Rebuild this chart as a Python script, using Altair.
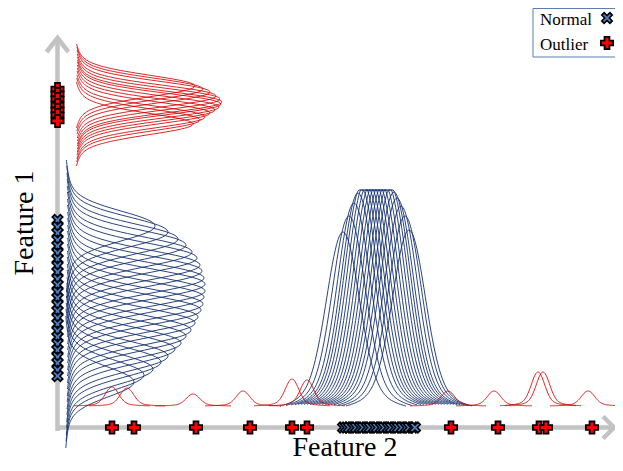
import altair as alt
import numpy as np
import pandas as pd

# ---------------- data (feature units, origin at the axes' crossing) ----------------
# sample markers
normal_f2 = [286, 289, 292, 296, 299, 303, 306, 310, 313, 317, 320, 324, 327, 331, 334, 338, 341, 345, 349, 352, 356, 358]
normal_f1 = [207, 200, 194, 187, 181, 174, 168, 161, 155, 148, 142, 135, 129, 122, 116, 109, 103, 96, 90, 83, 77, 70, 64, 57, 51]
outlier_f2 = [55, 77, 139, 193, 235, 250, 394, 441, 482, 489, 535]
outlier_f1 = [338, 333, 328, 322, 317, 312, 306]

# density curves of Feature 1 (drawn sideways from the vertical axis)
blue_f1_centers = [201, 195, 188, 182, 175, 169, 162, 156, 149, 143, 136, 130, 123, 117, 110, 104, 97, 91, 84, 78, 71, 65, 58, 52, 45]
blue_f1_heights = [91, 104, 114, 122, 128, 133, 136, 138, 140, 141, 141, 140, 139, 137, 134, 131, 127, 122, 117, 111, 104, 97, 89, 80, 70]
red_f1_centers = [341, 338, 335, 331, 328, 325, 323, 320, 317, 314, 310, 307, 303]
red_f1_heights = [123, 131, 138, 144, 148, 150, 149, 147, 143, 138, 133, 128, 121]

# density curves of Feature 2 (drawn upward from the horizontal axis)
blue_f2_centers = [286, 292, 297, 301, 304, 307, 310, 313, 316, 319, 322, 325, 328, 331, 334, 337, 340, 344, 348, 352]
blue_f2_heights = [181, 197, 210, 220, 226, 228, 228, 228, 228, 228, 228, 228, 228, 228, 226, 221, 215, 207, 197, 183]
red_f2_centers = [55, 70, 136, 186, 235, 250, 391, 437, 481, 486, 531]
red_f2_heights = [19, 18, 12, 15, 27, 26, 15, 15, 34, 34, 15]

legend_labels = ["Normal", "Outlier"]
x_title = "Feature 2"
y_title = "Feature 1"


def profile(d, s):
    return 0.88 * np.exp(-d ** 2 / (2 * s ** 2)) + 0.12 * np.exp(-d ** 2 / (2 * (2.6 * s) ** 2))


rows = []
cid = 0
def add_curves(centers, heights, base, sigma, reach, family, sideways, cap=None):
    global cid
    t = np.linspace(-reach, reach, 90)
    for c, h in zip(centers, heights):
        v = h * profile(t, sigma)
        if cap is not None:
            v = np.minimum(v, cap)
        for i, (tt, vv) in enumerate(zip(t, v)):
            if sideways:
                rows.append(dict(x=base + vv, y=c + tt, id=cid, i=i, fam=family))
            else:
                rows.append(dict(x=c + tt, y=base + vv, id=cid, i=i, fam=family))
        cid += 1

add_curves(blue_f1_centers, blue_f1_heights, 7, 14.5, 66, "blue", True)
add_curves(red_f1_centers, red_f1_heights, 15, 10.5, 42, "red", True)
add_curves(blue_f2_centers, blue_f2_heights, 14, 16, 63, "blue", False, cap=223)
add_curves(red_f2_centers, red_f2_heights, 21, 6.5, 38, "red", False)
curves = pd.DataFrame(rows)

xs = alt.Scale(domain=[-49, 558], nice=False, zero=False)
ys = alt.Scale(domain=[-36, 419], nice=False, zero=False)
X = lambda f: alt.X(f, type="quantitative", scale=xs, axis=None)
Y = lambda f: alt.Y(f, type="quantitative", scale=ys, axis=None)

GRAY = "#c3c3c3"
# axis lines with arrow heads
axes_df = pd.DataFrame([
    dict(id=0, i=0, x=0.5, y=-4), dict(id=0, i=1, x=0.5, y=389),
    dict(id=1, i=0, x=0.5, y=-0.5), dict(id=1, i=1, x=557, y=-0.5),
    dict(id=2, i=0, x=-10.5, y=375), dict(id=2, i=1, x=0.5, y=389), dict(id=2, i=2, x=11.5, y=375),
    dict(id=3, i=0, x=546, y=10.5), dict(id=3, i=1, x=557, y=-0.5), dict(id=3, i=2, x=546, y=-11.5),
])
axes_layer = alt.Chart(axes_df).mark_line(color=GRAY, strokeWidth=4.5, strokeCap="butt", strokeJoin="miter").encode(
    x=X("x"), y=Y("y"), detail="id:N", order="i:Q")

blue_curves = alt.Chart(curves[curves.fam == "blue"]).mark_line(
    color="#14306e", strokeWidth=1, opacity=0.9).encode(
    x=X("x"), y=Y("y"), detail="id:N", order="i:Q")
red_curves = alt.Chart(curves[curves.fam == "red"]).mark_line(
    color="#d40000", strokeWidth=1, opacity=0.85).encode(
    x=X("x"), y=Y("y"), detail="id:N", order="i:Q")

XSHAPE = "M-1,-0.55L-0.55,-1L0,-0.45L0.55,-1L1,-0.55L0.45,0L1,0.55L0.55,1L0,0.45L-0.55,1L-1,0.55L-0.45,0Z"
BLUE_FILL = "#4d7fc2"
RED_FILL = "#ff0000"

normals = pd.DataFrame(
    [dict(x=v, y=-0.5) for v in normal_f2] + [dict(x=0.5, y=v) for v in normal_f1])
outliers = pd.DataFrame(
    [dict(x=v, y=-0.5) for v in outlier_f2] + [dict(x=0.5, y=v) for v in outlier_f1])

normal_pts = alt.Chart(normals).mark_point(
    shape=XSHAPE, filled=True, fill=BLUE_FILL, stroke="black", strokeWidth=1.6, size=110, opacity=1).encode(
    x=X("x"), y=Y("y"))
outlier_pts = alt.Chart(outliers).mark_point(
    shape="cross", filled=True, fill=RED_FILL, stroke="black", strokeWidth=1.8, size=150, opacity=1).encode(
    x=X("x"), y=Y("y"))

# titles
x_title_layer = alt.Chart(pd.DataFrame([dict(x=288, y=-35, t=x_title)])).mark_text(
    font="Liberation Serif", fontSize=28, color="black", baseline="bottom", align="center").encode(
    x=X("x"), y=Y("y"), text="t:N")
y_title_layer = alt.Chart(pd.DataFrame([dict(x=-24, y=204, t=y_title)])).mark_text(
    font="Liberation Serif", fontSize=28, color="black", baseline="alphabetic", align="center", angle=270).encode(
    x=X("x"), y=Y("y"), text="t:N")

# legend
legend_box = alt.Chart(pd.DataFrame([dict(x=476, x2=600, y=418.5, y2=370)])).mark_rect(
    fill="white", stroke="#5a7db5", strokeWidth=1).encode(
    x=X("x"), x2="x2", y=Y("y"), y2="y2")
legend_text = alt.Chart(pd.DataFrame([dict(x=483, y=402, t=legend_labels[0]), dict(x=483, y=377, t=legend_labels[1])])).mark_text(
    font="Liberation Serif", fontSize=17, color="black", align="left", baseline="alphabetic").encode(
    x=X("x"), y=Y("y"), text="t:N")
legend_n = alt.Chart(pd.DataFrame([dict(x=550, y=409)])).mark_point(
    shape=XSHAPE, filled=True, fill=BLUE_FILL, stroke="black", strokeWidth=1.6, size=110, opacity=1).encode(
    x=X("x"), y=Y("y"))
legend_o = alt.Chart(pd.DataFrame([dict(x=550, y=384)])).mark_point(
    shape="cross", filled=True, fill=RED_FILL, stroke="black", strokeWidth=1.8, size=150, opacity=1).encode(
    x=X("x"), y=Y("y"))

chart = alt.layer(
    axes_layer, blue_curves, red_curves, normal_pts, outlier_pts, x_title_layer, y_title_layer,
    legend_box, legend_text, legend_n, legend_o
).properties(
    width=607, height=455, padding=0, autosize=alt.AutoSizeParams(type="none"), background="white"
).configure_view(stroke=None)

chart.save("out.html", embed_options={"renderer": "svg", "actions": False})
